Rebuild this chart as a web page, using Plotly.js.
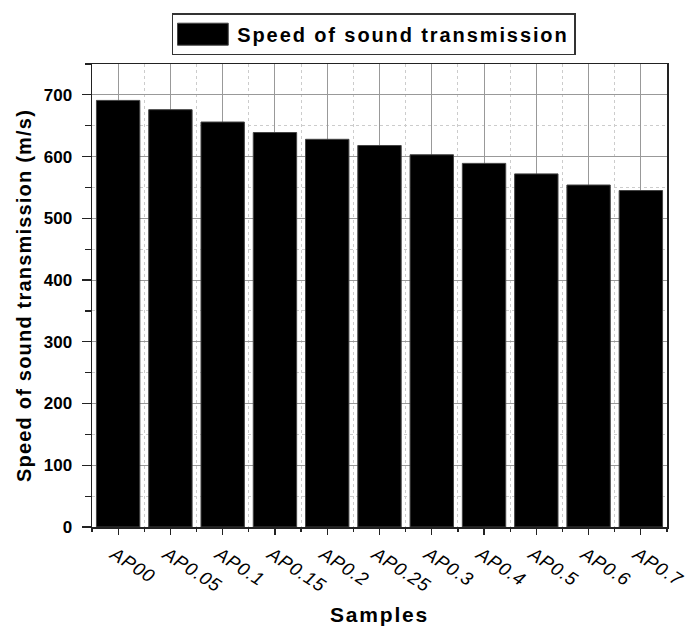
<!DOCTYPE html>
<html>
<head>
<meta charset="utf-8">
<script src="https://cdn.plot.ly/plotly-3.0.1.min.js"></script>
<style>
html,body{margin:0;padding:0;background:#fff}
#chart{width:690px;height:628px}
.legendtext{letter-spacing:1.9px}
.g-xtitle text{letter-spacing:1.8px}
.g-ytitle text{letter-spacing:1.2px}
.xtick text{letter-spacing:0.8px}
</style>
</head>
<body>
<div id="chart"></div>
<script>
const samples = ["AP00","AP0.05","AP0.1","AP0.15","AP0.2","AP0.25","AP0.3","AP0.4","AP0.5","AP0.6","AP0.7"];
const speed = [691, 676, 656, 639, 628, 618, 603, 589, 572, 554, 545];
const seriesName = "Speed of sound transmission";
const yTicks = [0,100,200,300,400,500,600,700];

const idx = samples.map((_, i) => i);
const fontFam = "Arial, 'Liberation Sans', sans-serif";

const trace = {
  type: "bar",
  x: idx,
  y: speed,
  name: seriesName,
  marker: {color: "#000", line: {color: "#444", width: 1}},
  width: 0.83,
  showlegend: true
};

const layout = {
  width: 690, height: 628,
  margin: {l: 92, r: 23, t: 64, b: 101},
  paper_bgcolor: "#fff", plot_bgcolor: "#fff",
  font: {family: fontFam, color: "#000"},
  showlegend: true,
  legend: {
    orientation: "h", x: 0.49, xanchor: "center",
    yref: "container", y: 0.979, yanchor: "top",
    bordercolor: "#333", borderwidth: 1.5, bgcolor: "#fff",
    itemwidth: 54,
    font: {size: 20, weight: "bold", family: fontFam}
  },
  xaxis: {
    range: [-0.5, samples.length - 0.5],
    tickmode: "array", tickvals: idx, ticktext: samples,
    tickangle: 33,
    tickfont: {size: 18.5, style: "italic", family: fontFam},
    ticklabelshift: -4, ticklabelstandoff: 2,
    ticks: "outside", ticklen: 6, tickwidth: 1.2, tickcolor: "#222",
    showline: true, linecolor: "#222", linewidth: 1.5, mirror: true,
    showgrid: true, gridcolor: "#999", gridwidth: 1,
    zeroline: false,
    minor: {tickmode: "linear", tick0: 0.5, dtick: 1, ticks: "outside", ticklen: 3,
            tickcolor: "#222", showgrid: true, gridcolor: "#ccc", griddash: "dot", gridwidth: 1},
    title: {text: "Samples", font: {size: 21, weight: "bold", family: fontFam}, standoff: 12}
  },
  yaxis: {
    range: [0, 750],
    tickmode: "array", tickvals: yTicks,
    tickfont: {size: 17, weight: "bold", family: fontFam},
    ticklabelstandoff: 6,
    ticks: "outside", ticklen: 9, tickwidth: 1.2, tickcolor: "#222",
    showline: true, linecolor: "#222", linewidth: 1.5, mirror: true,
    showgrid: true, gridcolor: "#999", gridwidth: 1,
    zeroline: false,
    minor: {tickmode: "linear", tick0: 50, dtick: 100, ticks: "outside", ticklen: 6,
            tickcolor: "#222", showgrid: true, gridcolor: "#ccc", griddash: "dot", gridwidth: 1},
    title: {text: "Speed of sound transmission (m/s)", font: {size: 20, weight: "bold", family: fontFam}, standoff: 6}
  },
  bargap: 0.17
};

Plotly.newPlot("chart", [trace], layout, {displayModeBar: false, staticPlot: true}).then(gd => {
  // widen the legend swatch into the wide block used in the reference
  const bg = gd.querySelector(".legend .bg");
  const txt = gd.querySelector(".legend .legendtext");
  const p = gd.querySelector(".legend .legendpoints path");
  if (!bg || !txt || !p) return;
  const rb = bg.getBoundingClientRect();
  const rt = txt.getBoundingClientRect();
  const rp = p.getBoundingClientRect();
  const bb = p.getBBox();
  const offX = rp.left - bb.x, offY = rp.top - bb.y;
  const x0 = rb.left + 5 - offX, x1 = rt.left - 9 - offX;
  const cy = (rp.top + rp.height / 2) - offY;
  const h = 11;
  p.setAttribute("d", `M${x0},${cy - h}H${x1}V${cy + h}H${x0}Z`);
  gd.querySelectorAll(".legend [clip-path]").forEach(el => el.removeAttribute("clip-path"));
});
</script>
</body>
</html>
